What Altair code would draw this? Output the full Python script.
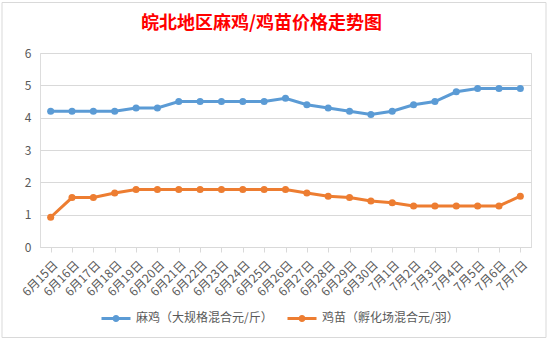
import altair as alt
import pandas as pd

dates = ["6月15日", "6月16日", "6月17日", "6月18日", "6月19日", "6月20日", "6月21日",
         "6月22日", "6月23日", "6月24日", "6月25日", "6月26日", "6月27日", "6月28日",
         "6月29日", "6月30日", "7月1日", "7月2日", "7月3日", "7月4日", "7月5日",
         "7月6日", "7月7日"]
ma_ji = [4.2, 4.2, 4.2, 4.2, 4.3, 4.3, 4.5, 4.5, 4.5, 4.5, 4.5, 4.6, 4.4, 4.3,
         4.2, 4.1, 4.2, 4.4, 4.5, 4.8, 4.9, 4.9, 4.9]
ji_miao = [0.92, 1.53, 1.53, 1.67, 1.78, 1.78, 1.78, 1.78, 1.78, 1.78, 1.78, 1.78,
           1.67, 1.57, 1.53, 1.42, 1.37, 1.27, 1.27, 1.27, 1.27, 1.27, 1.57]
series_names = ["麻鸡（大规格混合元/斤）", "鸡苗（孵化场混合元/羽）"]
series_colors = ["#5b9bd5", "#ed7d31"]
y_ticks = [0, 1, 2, 3, 4, 5, 6]

rows = []
for name, vals in zip(series_names, [ma_ji, ji_miao]):
    for d, v in zip(dates, vals):
        rows.append({"date": d, "value": v, "series": name})
df = pd.DataFrame(rows)

FONT = "Noto Sans CJK SC"
GREY = "#595959"

W, H = 491, 194

frame = alt.Chart(pd.DataFrame({"a": [0]})).mark_rect(
    fillOpacity=0, stroke="#d9d9d9", strokeWidth=1, clip=False
).encode(
    x=alt.value(-38), x2=alt.value(506), y=alt.value(-50.5), y2=alt.value(284.5)
)

lines = alt.Chart(df).mark_line(
    strokeWidth=3,
    point=alt.OverlayMarkDef(filled=True, size=50),
).encode(
    x=alt.X("date:N", sort=dates, title=None,
            scale=alt.Scale(paddingInner=0, paddingOuter=0),
            axis=alt.Axis(labelAngle=-45, labelFontSize=12, labelColor=GREY,
                          labelFont=FONT, domainColor="#d9d9d9", tickColor="#d9d9d9",
                          tickSize=5, bandPosition=0, labelOffset=1,
                          labelPadding=7, grid=False)),
    y=alt.Y("value:Q", title=None,
            scale=alt.Scale(domain=[0, 6], nice=False),
            axis=alt.Axis(values=y_ticks, domain=False, ticks=False, labelColor=GREY,
                          labelFontSize=12, labelFont=FONT, labelPadding=9,
                          gridColor="#d9d9d9", gridWidth=1)),
    color=alt.Color("series:N",
                    scale=alt.Scale(domain=series_names, range=series_colors),
                    legend=alt.Legend(
                        title=None, orient="none", direction="horizontal",
                        legendX=60, legendY=249,
                        symbolType="M-1,0L1,0M-0.14,0A0.14,0.14,0,1,0,0.14,0A0.14,0.14,0,1,0,-0.14,0",
                        symbolSize=841, symbolStrokeWidth=3,
                        labelFont=FONT, labelFontSize=12, labelColor=GREY,
                        labelOffset=4, columnPadding=8)),
)

chart = alt.layer(frame, lines).properties(
    width=W, height=H,
    autosize=alt.AutoSizeParams(type="none"),
    padding={"left": 40, "top": 53, "right": 549 - 40 - W, "bottom": 341 - 53 - H},
    title=alt.TitleParams("皖北地区麻鸡/鸡苗价格走势图", font=FONT, fontSize=18,
                          fontWeight="bold", color="#ff0000", anchor="middle",
                          frame="group", dx=-24, offset=-31),
).configure_view(stroke=None).configure(background="white")

chart.save("out.html", embed_options={"renderer": "svg", "actions": False})
